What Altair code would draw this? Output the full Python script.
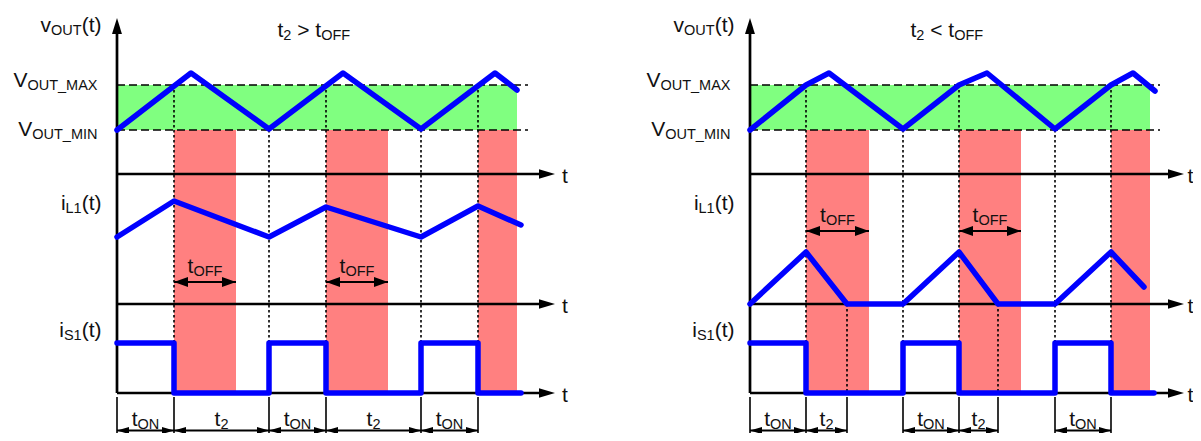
import altair as alt
import pandas as pd

# ---------------- data (time units along the common axis, signal levels as chart rows) ----------------
PANEL_SHIFT = [0, 633]                     # second diagram drawn further along the time axis
TITLE_PIECES = [[("t", 0), ("2", 1), (" > t", 0), ("OFF", 1)],
                [("t", 0), ("2", 1), (" < t", 0), ("OFF", 1)]]

V_MAX = 85
V_MIN = 130
AXIS_LEVELS = [174, 304, 393]
AXIS_TOP = 18
AXIS_END = [438, 434]
SHADE_END = 400
DASH_END = [411, 410]

VOUT_T = [[0, 74, 152, 226, 304, 378, 400],
          [0, 56, 79, 153, 209, 237, 305, 361, 383, 405]]
VOUT_V = [[130, 73, 129, 73, 129, 73, 90],
          [130, 85, 73, 129, 85, 73, 129, 85, 73, 91]]
IL_T = [[0, 57, 152, 209, 304, 361, 404],
        [0, 56, 97, 153, 209, 248, 305, 361, 394]]
IL_V = [[237, 201, 237, 207, 237, 206, 225],
        [304, 252, 304, 304, 252, 304, 304, 252, 287]]
IS_T = [[0, 57, 57, 152, 152, 209, 209, 304, 304, 361, 361, 404],
        [0, 56, 56, 153, 153, 209, 209, 305, 305, 361, 361, 404]]
IS_V = [[343, 343, 393, 393, 343, 343, 393, 393, 343, 343, 393, 393],
        [343, 343, 393, 393, 343, 343, 393, 393, 343, 343, 393, 393]]

RED_START = [[57, 209, 361], [56, 209, 361]]
RED_END = [[119, 271, 400], [119, 271, 400]]
TOFF_LEVEL = [282, 231]
TOFF_BANDS = 2

DOT_T = [[57, 152, 209, 304, 361], [56, 153, 209, 305, 361, 97, 248]]
DOT_TOP = [[85, 130, 85, 130, 85], [85, 130, 85, 130, 85, 304, 304]]
DOT_BOTTOM = [[343, 343, 343, 343, 343], [343, 343, 343, 343, 343, 393, 393]]

SPAN_START = [[0, 57, 152, 209, 304], [0, 56, 153, 209, 305]]
SPAN_END = [[57, 152, 209, 304, 361], [56, 97, 209, 248, 361]]
SPAN_SUB = [["ON", "2", "ON", "2", "ON"], ["ON", "2", "ON", "2", "ON"]]
SPAN_LEVEL = 430.5
SPAN_LABEL = 425.5
SEP_TOP = 397
SEP_BOTTOM = 433

SIGNAL_LABELS = [
    ([("v", 0), ("OUT", 1), ("(t)", 0)], -15.5, 31.5),
    ([("V", 0), ("OUT_MAX", 1)], -19.5, 87),
    ([("V", 0), ("OUT_MIN", 1)], -19.5, 135.5),
    ([("i", 0), ("L1", 1), ("(t)", 0)], -15.5, 210),
    ([("i", 0), ("S1", 1), ("(t)", 0)], -15.5, 337),
]
TITLE_X = 160.5
TITLE_Y = 36.5
T_LABEL_X = [445, 437.5]

MAIN = 21
SUB = 14.5
SUB_DROP = 3
FONT = "Liberation Sans"

# Arial/Liberation advance widths (per 1000 em)
W = {'V': 667, 'v': 500, 'i': 222, 't': 278, 'O': 778, 'U': 722, 'T': 611, '_': 556,
     'M': 833, 'A': 667, 'X': 667, 'I': 278, 'N': 722, 'L': 556, 'S': 667, '1': 556,
     '2': 556, 'F': 611, '(': 333, ')': 333, '>': 584, '<': 584, ' ': 278}


def tw(s, size):
    return sum(W[c] for c in s) / 1000 * size


def layout(pieces, x, y, align, panel):
    widths = [tw(s, SUB if sub else MAIN) for s, sub in pieces]
    total = sum(widths)
    if align == "right":
        start = x - total
    elif align == "center":
        start = x - total / 2
    else:
        start = x
    rows = []
    for (s, sub), w in zip(pieces, widths):
        size = SUB if sub else MAIN
        lead = len(s) - len(s.lstrip(" "))
        rows.append(dict(x=start + tw(" " * lead, size) + PANEL_SHIFT[panel],
                         y=y + (SUB_DROP if sub else 0),
                         text=s.strip(" ").replace(" ", "\u00a0"), kind="sub" if sub else "main"))
        start += w
    return rows


# ---------------- tables ----------------
lines, green, red, dashed, dotted, axes_h, axes_v = [], [], [], [], [], [], []
shafts, seps, tips_r, tips_up, dbl_l, dbl_r, sm_l, sm_r, texts = [], [], [], [], [], [], [], [], []

for p, off in enumerate(PANEL_SHIFT):
    for name, T, V in (("vout", VOUT_T[p], VOUT_V[p]), ("il", IL_T[p], IL_V[p]), ("is", IS_T[p], IS_V[p])):
        for i, (t, v) in enumerate(zip(T, V)):
            lines.append(dict(series=f"{name}{p}", i=i, x=t + off, y=v))
    green.append(dict(x0=off, x1=SHADE_END + off, y0=V_MAX, y1=V_MIN))
    for a, b in zip(RED_START[p], RED_END[p]):
        red.append(dict(x0=a + off, x1=b + off, y0=V_MIN, y1=AXIS_LEVELS[-1]))
    for lvl in (V_MAX, V_MIN):
        dashed.append(dict(x0=off, x1=DASH_END[p] + off, y=lvl))
    for t, a, b in zip(DOT_T[p], DOT_TOP[p], DOT_BOTTOM[p]):
        dotted.append(dict(x=t + off, y0=a, y1=b))
    for lvl in AXIS_LEVELS:
        axes_h.append(dict(x0=off, x1=AXIS_END[p] - 8 + off, y=lvl))
        tips_r.append(dict(x=AXIS_END[p] + off, y=lvl))
        texts += layout([("t", 0)], T_LABEL_X[p], lvl + 9.3, "left", p)
    axes_v.append(dict(x=off, y0=AXIS_TOP + 8, y1=AXIS_LEVELS[-1]))
    tips_up.append(dict(x=off, y=AXIS_TOP))
    # t_OFF arrows
    for a, b in list(zip(RED_START[p], RED_END[p]))[:TOFF_BANDS]:
        shafts.append(dict(x0=a + off, x1=b + off, y=TOFF_LEVEL[p]))
        dbl_l.append(dict(x=a + off, y=TOFF_LEVEL[p]))
        dbl_r.append(dict(x=b + off, y=TOFF_LEVEL[p]))
        texts += layout([("t", 0), ("OFF", 1)], (a + b) / 2, TOFF_LEVEL[p] - 8.8, "center", p)
    # bottom interval arrows
    bounds = sorted(set(SPAN_START[p]) | set(SPAN_END[p]))
    for b in bounds:
        seps.append(dict(x=b + off, y0=SEP_TOP, y1=SEP_BOTTOM))
    for a, b, s in zip(SPAN_START[p], SPAN_END[p], SPAN_SUB[p]):
        shafts.append(dict(x0=a + off, x1=b + off, y=SPAN_LEVEL))
        sm_l.append(dict(x=a + off, y=SPAN_LEVEL))
        sm_r.append(dict(x=b + off, y=SPAN_LEVEL))
        texts += layout([("t", 0), (s, 1)], (a + b) / 2, SPAN_LABEL, "center", p)
    # signal labels and title
    for pieces, ax, by in SIGNAL_LABELS:
        texts += layout(pieces, ax, by, "right", p)
    texts += layout(TITLE_PIECES[p], TITLE_X, TITLE_Y, "left", p)

XS = alt.Scale(domain=[-109, 1076], nice=False, zero=False)
YS = alt.Scale(domain=[8, 433], reverse=True, nice=False, zero=False)


def X(f):
    return alt.X(f + ":Q", scale=XS, axis=None)


def Y(f):
    return alt.Y(f + ":Q", scale=YS, axis=None)


def df(rows):
    return pd.DataFrame(rows)


layers = []
layers.append(alt.Chart(df(green)).mark_rect(color="#80ff80", opacity=1).encode(
    x=X("x0"), x2="x1:Q", y=Y("y0"), y2="y1:Q"))
layers.append(alt.Chart(df(red)).mark_rect(color="#ff8080", opacity=1).encode(
    x=X("x0"), x2="x1:Q", y=Y("y0"), y2="y1:Q"))
layers.append(alt.Chart(df(dashed)).mark_rule(color="black", strokeWidth=1.6, strokeDash=[8, 4]).encode(
    x=X("x0"), x2="x1:Q", y=Y("y")))
layers.append(alt.Chart(df(dotted)).mark_rule(color="black", strokeWidth=1.6, strokeDash=[2.5, 2.5]).encode(
    x=X("x"), y=Y("y0"), y2="y1:Q"))
layers.append(alt.Chart(df(axes_h)).mark_rule(color="black", strokeWidth=2.7).encode(
    x=X("x0"), x2="x1:Q", y=Y("y")))
layers.append(alt.Chart(df(axes_v)).mark_rule(color="black", strokeWidth=2.7).encode(
    x=X("x"), y=Y("y0"), y2="y1:Q"))
layers.append(alt.Chart(df(seps)).mark_rule(color="black", strokeWidth=1.6).encode(
    x=X("x"), y=Y("y0"), y2="y1:Q"))
layers.append(alt.Chart(df(shafts)).mark_rule(color="black", strokeWidth=2).encode(
    x=X("x0"), x2="x1:Q", y=Y("y")))
layers.append(alt.Chart(df(lines)).mark_line(color="#0000ff", strokeWidth=5.5, strokeCap="round",
                                             strokeJoin="round").encode(
    x=X("x"), y=Y("y"), detail="series:N", order=alt.Order("i:Q")))


def tip(rows, path, size):
    return alt.Chart(df(rows)).mark_point(shape=path, filled=True, size=size, color="black",
                                          opacity=1, strokeWidth=0).encode(x=X("x"), y=Y("y"))


layers.append(tip(tips_r, "M0,0 L-2,-0.6 L-2,0.6 Z", 256))
layers.append(tip(tips_up, "M0,0 L-0.62,2 L0.62,2 Z", 256))
layers.append(tip(dbl_l, "M0,0 L2,-0.7 L2,0.7 Z", 196))
layers.append(tip(dbl_r, "M0,0 L-2,-0.7 L-2,0.7 Z", 196))
layers.append(tip(sm_l, "M0,0 L2,-0.6 L2,0.6 Z", 144))
layers.append(tip(sm_r, "M0,0 L-2,-0.6 L-2,0.6 Z", 144))

tdf = df(texts)
layers.append(alt.Chart(tdf).transform_filter(alt.datum.kind == "main").mark_text(
    font=FONT, fontSize=MAIN, align="left", baseline="alphabetic", color="#111111").encode(
    x=X("x"), y=Y("y"), text="text:N"))
layers.append(alt.Chart(tdf).transform_filter(alt.datum.kind == "sub").mark_text(
    font=FONT, fontSize=SUB, align="left", baseline="alphabetic", color="#111111").encode(
    x=X("x"), y=Y("y"), text="text:N"))

chart = alt.layer(*layers).properties(
    width=1185, height=425, padding=0,
    autosize=alt.AutoSizeParams(type="none"),
).configure_view(stroke=None)

chart.save("out.html", embed_options={"renderer": "svg", "actions": False})
